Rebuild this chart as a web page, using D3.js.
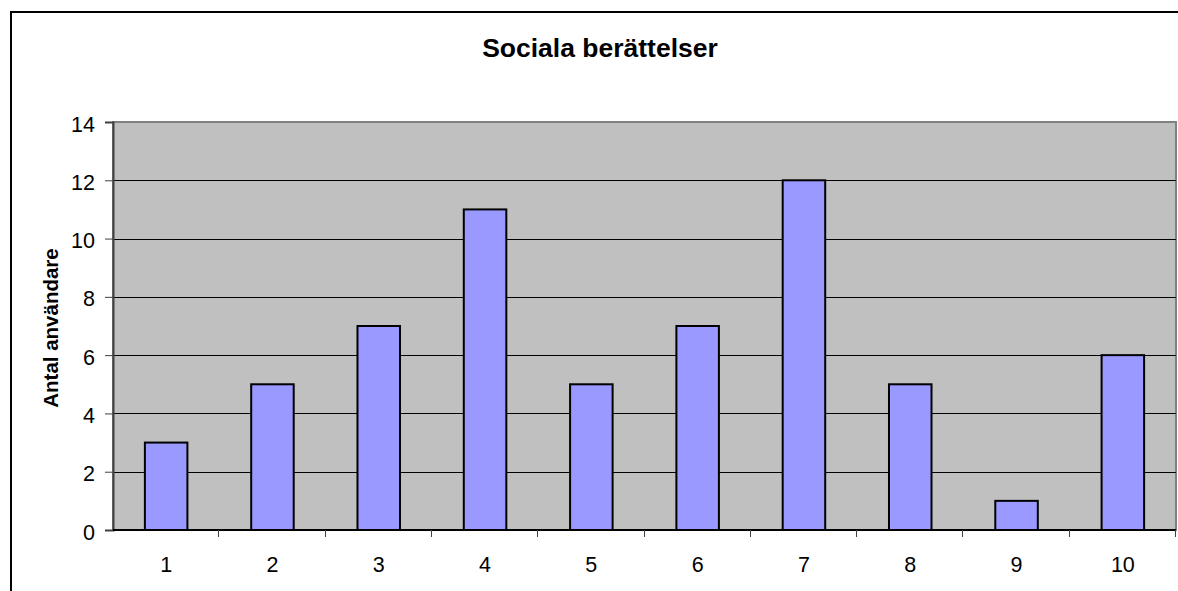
<!DOCTYPE html>
<html>
<head>
<meta charset="utf-8">
<script src="https://cdn.jsdelivr.net/npm/d3@7"></script>
<style>
  html, body { margin: 0; padding: 0; background: #fff; }
  svg { display: block; font-family: Arial, "Liberation Sans", sans-serif; }
</style>
</head>
<body>
<div id="chart"></div>
<script>
const categories = ['1', '2', '3', '4', '5', '6', '7', '8', '9', '10'];
const values = [3, 5, 7, 11, 5, 7, 12, 5, 1, 6];
const yTicks = [0, 2, 4, 6, 8, 10, 12, 14];
const title = 'Sociala berättelser';
const yTitle = 'Antal användare';

const W = 1178, H = 591;
const margin = { top: 122, right: 2, bottom: 61, left: 113 };
const width = W - margin.left - margin.right;
const height = H - margin.top - margin.bottom;

const svg = d3.select('#chart').append('svg')
  .attr('width', W)
  .attr('height', H);

// outer chart frame (runs past the visible area on right/bottom)
svg.append('rect')
  .attr('x', 11).attr('y', 12)
  .attr('width', W + 20).attr('height', H + 20)
  .attr('fill', '#fff')
  .attr('stroke', '#000')
  .attr('stroke-width', 2);

svg.append('text')
  .attr('x', 600).attr('y', 57)
  .attr('text-anchor', 'middle')
  .style('font-size', '26.5px')
  .style('font-weight', 'bold')
  .text(title);

const g = svg.append('g')
  .attr('transform', `translate(${margin.left},${margin.top})`);

const x = d3.scaleBand()
  .domain(categories)
  .range([0, width])
  .padding(0);

const y = d3.scaleLinear()
  .domain([0, 14])
  .range([height, 0]);

// plot background
g.append('rect')
  .attr('width', width).attr('height', height)
  .attr('fill', '#c0c0c0')
  .attr('stroke', '#808080')
  .attr('stroke-width', 2);

// gridlines
g.append('g')
  .selectAll('line')
  .data(yTicks.filter(d => d > 0 && d < 14))
  .enter().append('line')
  .attr('x1', 0).attr('x2', width)
  .attr('y1', d => Math.round(y(d)) + 0.5)
  .attr('y2', d => Math.round(y(d)) + 0.5)
  .attr('stroke', '#000')
  .attr('stroke-width', 1);

// bars
const barW = x.bandwidth() / 2.5;
g.selectAll('.bar')
  .data(values)
  .enter().append('rect')
  .attr('class', 'bar')
  .attr('x', (d, i) => x(categories[i]) + (x.bandwidth() - barW) / 2)
  .attr('y', d => y(d))
  .attr('width', barW)
  .attr('height', d => height - y(d))
  .attr('fill', '#9999ff')
  .attr('stroke', '#000')
  .attr('stroke-width', 2);

// y axis
const yAxis = g.append('g')
  .call(d3.axisLeft(y).tickValues(yTicks).tickSize(8).tickPadding(10).tickFormat(d3.format('d')));
yAxis.select('.domain').attr('stroke', '#404040').attr('stroke-width', 2);
yAxis.selectAll('.tick line').attr('stroke', '#404040');
yAxis.selectAll('text')
  .attr('dy', '0.42em')
  .style('font-size', '21.5px')
  .attr('fill', '#000');

// x axis: ticks at category boundaries
const xAxisG = g.append('g')
  .attr('transform', `translate(0,${height})`);
xAxisG.append('line')
  .attr('x1', 0).attr('x2', width)
  .attr('y1', 0).attr('y2', 0)
  .attr('stroke', '#000').attr('stroke-width', 2);
xAxisG.selectAll('.bt')
  .data(categories)
  .enter().append('line')
  .attr('x1', d => Math.round(x(d) + x.bandwidth()) - 0.5)
  .attr('x2', d => Math.round(x(d) + x.bandwidth()) - 0.5)
  .attr('y1', 0).attr('y2', 7)
  .attr('stroke', '#404040');
xAxisG.selectAll('.lbl')
  .data(categories)
  .enter().append('text')
  .attr('x', d => x(d) + x.bandwidth() / 2)
  .attr('y', 42)
  .attr('text-anchor', 'middle')
  .style('font-size', '21.5px')
  .text(d => d);

// y axis title
svg.append('text')
  .attr('transform', 'translate(58,328) rotate(-90)')
  .attr('text-anchor', 'middle')
  .style('font-size', '20.5px')
  .style('font-weight', 'bold')
  .text(yTitle);
</script>
</body>
</html>
